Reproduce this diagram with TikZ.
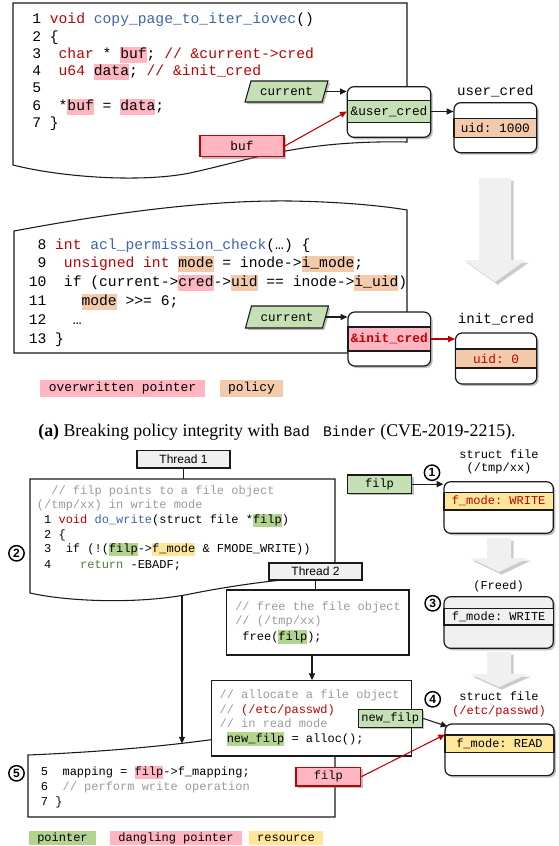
\documentclass[tikz,border=0pt]{standalone}
\usepackage{fontspec}
\usepackage{graphicx}
\setmainfont{Liberation Serif}
\setsansfont{Liberation Sans}
\setmonofont{Liberation Mono}
\usetikzlibrary{arrows.meta,shapes.geometric,shadows,fit,calc}
\definecolor{cred}{HTML}{C00000}
\definecolor{cblue}{HTML}{3D64AE}
\definecolor{hpink}{HTML}{FFB6C1}
\definecolor{horange}{HTML}{F4CBAA}
\definecolor{hgreen}{HTML}{B2D48E}
\definecolor{bgreen}{HTML}{C5E0B4}
\definecolor{hyellow}{HTML}{FFE699}
\definecolor{cgray}{HTML}{9B9B9B}
\definecolor{cdgreen}{HTML}{4E7F35}
\definecolor{tgray}{HTML}{F0F0F0}
\definecolor{lineg}{HTML}{1A1A1A}
\newcommand{\hlt}[2]{{\setlength{\fboxsep}{0pt}\colorbox{#1}{\rule[-0.3em]{0pt}{1.1em}#2}}}
\tikzset{
  ln/.style={line width=0.8pt, draw=lineg},
  arr/.style={ln, -{Triangle[length=5pt,width=4.5pt]}},
  rarr/.style={line width=0.8pt, draw=cred, -{Triangle[length=5pt,width=4.5pt]}},
  shd/.style={drop shadow={shadow xshift=1.5pt, shadow yshift=-1.5pt, opacity=0.45, fill=black!55}},
  codeA/.style={anchor=west, inner sep=0pt, font=\ttfamily\fontsize{11}{13}\selectfont, text height=8pt, text depth=2.5pt},
  codeB/.style={anchor=west, inner sep=0pt, font=\ttfamily\fontsize{9}{11}\selectfont, text height=6.5pt, text depth=2pt},
  lblA/.style={inner sep=0pt, font=\ttfamily\fontsize{9.6}{11}\selectfont},
  lblS/.style={inner sep=0pt, font=\ttfamily\fontsize{10.6}{12}\selectfont},
  lblB/.style={inner sep=0pt, font=\ttfamily\fontsize{9}{10}\selectfont},
  lblT/.style={inner sep=0pt, font=\sffamily\fontsize{9}{10}\selectfont},
  lblL/.style={inner sep=0pt, font=\ttfamily\fontsize{9.7}{11}\selectfont},
  sbox/.style={draw=lineg, line width=0.9pt, rounded corners=5pt, fill=white, inner sep=0pt, shd},
  srow/.style={draw=lineg, line width=0.9pt, inner sep=0pt},
  pgshape/.style={draw=lineg, line width=0.8pt, fill=bgreen, shd},
  pgtext/.style={inner sep=0pt, minimum width=57.75pt, minimum height=15.75pt, font=\ttfamily\fontsize{9.4}{11}\selectfont},
  rbx/.style={draw=cred, line width=1pt, fill=hpink, inner sep=0pt, shd},
  gbx/.style={draw=lineg, line width=0.8pt, fill=bgreen, inner sep=0pt, shd},
  cbox/.style={draw=lineg, line width=0.9pt, fill=white, inner sep=0pt},
  thr/.style={draw=lineg, line width=0.8pt, fill=tgray, inner sep=0pt},
  circ/.style={circle, draw=black, line width=1.1pt, minimum size=11.5pt, inner sep=0pt, fill=white, font=\sffamily\bfseries\fontsize{9}{9}\selectfont},
  leg/.style={inner sep=0pt},
  garrow/.style={fill=black!6, drop shadow={shadow xshift=2pt, shadow yshift=-2pt, opacity=0.5, fill=black!40}}
}
\begin{document}
\begin{tikzpicture}[x=0.75pt,y=-0.75pt]
\useasboundingbox (0,0) rectangle (558,846);
\fill[white] (0,0) rectangle (558,846);

% ---------------- (a) top code block
\draw[ln, fill=white] (13,3) -- (407,3) -- (407,142) .. controls (300,140) and (250,160) .. (190,173) .. controls (140,183) and (60,177) .. (13,165) -- cycle;
\node[codeA] (a1) at (32,20) {1~\textcolor{cred}{void}~\textcolor{cblue}{copy\_page\_to\_iter\_iovec}()};
\node[codeA] (a2) at (32,37.5) {2~\{};
\node[codeA] (a3) at (32,55) {3~~\textcolor{cred}{char}~*~\hlt{hpink}{buf};\textcolor{cred}{~//~\&current->cred}};
\node[codeA] (a4) at (32,72) {4~~\textcolor{cred}{u64}~\hlt{hpink}{data};\textcolor{cred}{~//~\&init\_cred}};
\node[codeA] (a5) at (32,89) {5};
\node[codeA] (a6) at (32,107) {6~~*\hlt{hpink}{buf}~=~\hlt{hpink}{data};};
\node[codeA] (a7) at (32,124) {7~\}};

\path[pgshape] (245,102) -- (322,102) -- (328,81) -- (251,81) -- cycle;
\node[pgtext] (cur1) at (286.5,91.5) {current};
\node[rbx, fit={(200,135.5) (284,156.7)}, label={[lblA]center:buf}] (buf) {};
\node[sbox, fit={(347.3,86.7) (430.7,137.3)}] (ucp) {};
\node[srow, fill=bgreen, fit={(347.3,100.7) (430.7,122.3)}, label={[lblA]center:{\&user\_cred}}] (ucpm) {};
\node[lblS] (uclab) at (495.4,91) {user\_cred};
\node[sbox, fit={(454,102.7) (536.7,152.7)}] (ucb) {};
\node[srow, fill=horange, fit={(454,118.3) (536.7,137.7)}, label={[lblA]center:{uid:~1000}}] (ucbm) {};
\draw[arr] (cur1.east) -- (cur1.east -| ucp.west);
\draw[rarr] (buf.east) -- (ucpm.west);
\draw[arr] (ucpm.east) -- (ucpm.east -| ucb.west);

% big gray arrow
\path[garrow] (479,178) -- (511,178) -- (511,260) -- (526,260) -- (495,282) -- (464,260) -- (479,260) -- cycle;

% ---------------- (a) second code block
\draw[ln, fill=white] (14,231) -- (14,353) -- (407,353) -- (407,210) .. controls (390,207) and (350,202) .. (290,201) .. controls (200,200) and (100,215) .. (14,231) -- cycle;
\node[codeA] (b8) at (28.5,245.4) {~8~\textcolor{cred}{int}~\textcolor{cblue}{acl\_permission\_check}(…)~\{};
\node[codeA] (b9) at (28.5,264) {~9~~\textcolor{cred}{unsigned~int}~\hlt{horange}{mode}~=~inode->\hlt{horange}{i\_mode};};
\node[codeA] (b10) at (28.5,283) {10~~if~(current->\hlt{hpink}{cred}->\hlt{horange}{uid}~==~inode->\hlt{horange}{i\_uid})};
\node[codeA] (b11) at (28.5,302) {11~~~~\hlt{horange}{mode}~>{}>=~6;};
\node[codeA] (b12) at (28.5,321) {12~~~…};
\node[codeA] (b13) at (28.5,339.5) {13~\}};

\path[pgshape] (245.5,328) -- (322.5,328) -- (328.5,306) -- (251.5,306) -- cycle;
\node[pgtext] (cur2) at (287,317) {current};
\node[sbox, fit={(348,312) (430.6,366)}] (icp) {};
\node[srow, fill=hpink, fit={(348,327) (430.6,351)}, label={[lblA]center:{\textcolor{cred}{\textbf{\&init\_cred}}}}] (icpm) {};
\node[lblS] (iclab) at (496,319) {init\_cred};
\node[sbox, fit={(455.5,333) (536.7,384)}] (icb) {};
\node[srow, fill=horange, fit={(455.5,349) (536.7,368)}, label={[lblA]center:{\textcolor{cred}{uid:~0}}}] (icbm) {};
\draw[arr] (cur2.east) -- (cur2.east -| icp.west);
\draw[rarr] (icpm.east) -- (icpm.east -| icb.west);

% legend (a)
\node[leg, fill=hpink, fit={(40,380) (205,397)}, label={[lblL]center:{overwritten~pointer}}] (lg1) {};
\node[leg, fill=horange, fit={(220,380) (283,397)}, label={[lblL]center:policy}] (lg2) {};

% caption
\node[inner sep=0pt] (cap) at (277,432) {\resizebox{358pt}{!}{\rmfamily\fontsize{10}{12}\selectfont\textbf{(a)} Breaking policy integrity with {\ttfamily\fontsize{8.2}{10}\selectfont Bad\hspace{0.9em}Binder} (CVE-2019-2215).}};

% ---------------- (b)
\node[thr, fit={(137,450.7) (230,468)}, label={[lblT]center:{Thread 1}}] (t1) {};
\draw[ln, fill=white] (30,479) -- (335,479) -- (335,576) .. controls (290,578) and (240,584) .. (190,594) .. controls (140,604) and (70,602) .. (30,593) -- cycle;
\coordinate (c1top) at (183.5,479);
\draw[ln] (t1.south) -- (t1.south |- c1top);
\node[codeB, text=cgray] (t1c1) at (36.7,491.7) {~~//~filp~points~to~a~file~object};
\node[codeB, text=cgray] (t1c2) at (36.7,505.5) {(/tmp/xx)~in~write~mode};
\node[codeB] (t1l1) at (36.7,520.7) {~1~\textcolor{cred}{void}~\textcolor{cblue}{do\_write}(struct~file~*\hlt{hgreen}{filp})};
\node[codeB] (t1l2) at (36.7,535.5) {~2~\{};
\node[codeB] (t1l3) at (36.7,549.8) {~3~~if~(!(\hlt{hgreen}{filp}->\hlt{hyellow}{f\_mode}~\&~FMODE\_WRITE))};
\node[codeB] (t1l4) at (36.7,565) {~4~~~~\textcolor{cdgreen}{return}~-EBADF;};
\node[circ] (n2) at (16.5,553.3) {2};

\node[thr, fit={(269,563) (362,580)}, label={[lblT]center:{Thread 2}}] (t2) {};
\node[cbox, fit={(226.7,590) (409,655)}] (c2) {};
\draw[ln] (t2.south) -- (t2.south |- c2.north);
\node[codeB, text=cgray] (t2l1) at (235,607.3) {//~free~the~file~object};
\node[codeB, text=cgray] (t2l2) at (235,621.7) {//~(/tmp/xx)};
\node[codeB] (t2l3) at (235,637) {~free(\hlt{hgreen}{filp});};

% bottom block
\draw[ln, fill=white] (28,755) .. controls (100,752) and (170,746) .. (230,737) .. controls (280,730) and (320,730) .. (335,731) -- (335,817) -- (28,817) -- cycle;
\coordinate (c1bot) at (182,595.5);
\coordinate (c5top) at (182,743.5);
\draw[arr] (c1bot) -- (c5top);
\node[codeB] (l5) at (40.7,772.7) {5~~mapping~=~\hlt{hpink}{filp}->f\_mapping;};
\node[codeB] (l6) at (40.7,787.7) {6~~\textcolor{cgray}{//~perform~write~operation}};
\node[codeB] (l7) at (40.7,802.7) {7~\}};
\node[circ] (n5) at (16.5,773.3) {5};

% allocate block
\node[cbox, fit={(211.7,680.7) (411.7,756)}] (c3) {};
\coordinate (xarr) at (312,0);
\draw[arr] (c2.south -| xarr) -- (c3.north -| xarr);
\node[codeB, text=cgray] (c3l1) at (219.3,695) {//~allocate~a~file~object};
\node[codeB, text=cgray] (c3l2) at (219.3,710.3) {//~\textcolor{cred}{(/etc/passwd)}};
\node[codeB, text=cgray] (c3l3) at (219.3,724.5) {//~in~read~mode};
\node[codeB] (c3l4) at (219.3,739) {~\hlt{hgreen}{new\_filp}~=~alloc();};

% right column (b)
\node[lblB] (sf1) at (499,454) {struct~file};
\node[lblB] (sf1b) at (499,468.3) {(/tmp/xx)};
\node[gbx, fit={(347.3,475) (411.7,493.3)}, label={[lblB]center:filp}] (filpg) {};
\node[sbox, fit={(444,481.7) (553.3,533.3)}] (wb) {};
\node[srow, fill=hyellow, fit={(444,492.3) (553.3,510)}, label={[lblB]center:{\textcolor{cred}{f\_mode:~WRITE}}}] (wbm) {};
\draw[arr] (filpg.east) -- (filpg.east -| wb.west);
\node[circ] (n1) at (432,472.7) {1};

\path[garrow] (487,538) -- (511,538) -- (511,558) -- (528,558) -- (499,572) -- (470,558) -- (487,558) -- cycle;

\node[lblB] (frl) at (498.5,586) {(Freed)};
\node[sbox, fill=tgray, fit={(444,596.7) (553.3,648.3)}] (fb) {};
\node[srow, fill=tgray, fit={(444,608.3) (553.3,625)}, label={[lblB]center:{f\_mode:~WRITE}}] (fbm) {};
\node[circ] (n3) at (432.7,603.3) {3};

\path[garrow] (487,652) -- (511,652) -- (511,674) -- (528,674) -- (499,687) -- (470,674) -- (487,674) -- cycle;

\node[lblB] (sf2) at (499,696.7) {struct~file};
\node[lblB] (sf2b) at (499,711) {\textcolor{cred}{(/etc/passwd)}};
\node[sbox, fit={(445,724) (554,775.6)}] (rb) {};
\node[srow, fill=hyellow, fit={(445,735) (554,752.5)}, label={[lblB]center:{f\_mode:~READ}}] (rbm) {};
\node[circ] (n4) at (432.7,699.3) {4};
\node[gbx, fit={(358.3,709.3) (422.3,727.3)}, label={[lblB]center:{new\_filp}}] (nf) {};
\draw[arr] (nf.east) -- ($(rb.north west)+(3,3)$);
\node[rbx, fit={(296,767.3) (360.7,786)}, label={[lblB]center:filp}] (fr2) {};
\coordinate (rin) at (445,734.5);
\draw[rarr] (fr2.east) -- (rin);

% legend (b)
\node[leg, fill=hgreen, fit={(29,831) (96,845)}, label={[lblB]center:pointer}] (lb1) {};
\node[leg, fill=hpink, fit={(110,831) (242,845)}, label={[lblB]center:{dangling~pointer}}] (lb2) {};
\node[leg, fill=hyellow, fit={(249,831) (323,845)}, label={[lblB]center:resource}] (lb3) {};
\end{tikzpicture}
\end{document}
